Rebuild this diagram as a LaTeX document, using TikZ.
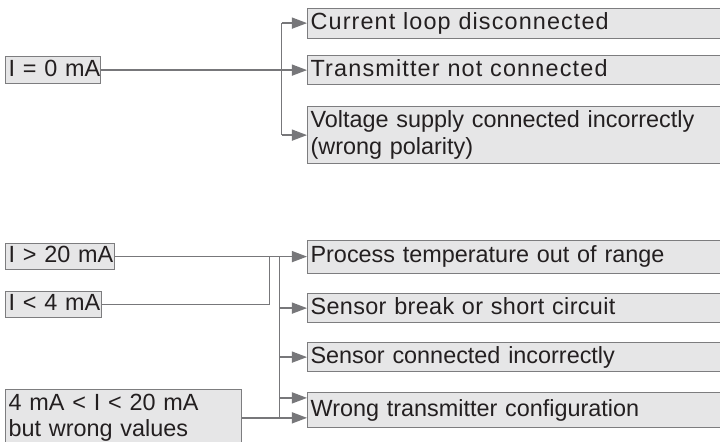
\documentclass[tikz,border=0pt]{standalone}
\usepackage{fontspec}
\setmainfont{Liberation Sans}
\usetikzlibrary{arrows.meta}
\definecolor{boxfill}{HTML}{E6E6E7}
\definecolor{boxline}{HTML}{7D7D7F}
\definecolor{conn}{HTML}{77777A}
\definecolor{txt}{HTML}{231F20}
\tikzset{
  box/.style={draw=boxline, line width=0.6pt, fill=boxfill, anchor=north west,
    inner xsep=1.5pt, inner ysep=0pt, align=left, text=txt,
    font=\fontsize{11.7}{13.3}\selectfont},
  oneline/.style={text height=8.4pt, text depth=2.4pt},
  wire/.style={draw=conn, line width=0.65pt},
  arr/.style={wire, -{Triangle[length=7.5pt,width=5.5pt]}},
}
\begin{document}
\begin{tikzpicture}[x=0.5pt,y=-0.5pt]
\useasboundingbox (0,0) rectangle (720,441);
\clip (0,0) rectangle (720,441);
% top group
\node[box,oneline,minimum height=13.5pt,text width=44.5pt] (A) at (5,56) {\mbox{I = 0 mA}};
\node[box,oneline,minimum height=15pt,text width=213.5pt] (R1) at (307,7.5) {\addfontfeature{LetterSpace=4.8}\mbox{Current loop disconnected}};
\node[box,oneline,minimum height=14.5pt,text width=213.5pt] (R2) at (307,55) {\addfontfeature{LetterSpace=5}\mbox{Transmitter not connected}};
\node[box,minimum height=28.5pt,text width=213.5pt] (R3) at (307,106) {Voltage supply connected incorrectly\\(wrong polarity)};
\coordinate (v1) at (281.7,0);
\draw[arr] (A.east) -- (R2.west);
\draw[wire] (v1 |- R1.west) -- (v1 |- R3.west);
\draw[arr] (v1 |- R1.west) -- (R1.west);
\draw[arr] (v1 |- R3.west) -- (R3.west);
% bottom group
\node[box,oneline,minimum height=13pt,text width=51.5pt] (B1) at (5,243) {\mbox{I > 20 mA}};
\node[box,oneline,minimum height=13pt,text width=45pt] (B2) at (5,291) {\mbox{I < 4 mA}};
\node[box,minimum height=28.75pt,text width=115pt] (B3) at (5,388.5) {\mbox{4 mA < I < 20 mA}\\\mbox{but wrong values}};
\node[box,oneline,minimum height=16.5pt,text width=213.5pt] (P) at (307,239.5) {\mbox{Process temperature out of range}};
\node[box,oneline,minimum height=14.5pt,text width=213.5pt] (S1) at (307,293) {\addfontfeature{LetterSpace=1.5}\mbox{Sensor break or short circuit}};
\node[box,oneline,minimum height=14.5pt,text width=213.5pt] (S2) at (307,342) {\mbox{Sensor connected incorrectly}};
\node[box,oneline,minimum height=17.5pt,text width=213.5pt] (W) at (307,392) {\mbox{Wrong transmitter configuration}};
\coordinate (v2) at (269.3,0);
\coordinate (v3) at (279.5,0);
\coordinate (wu) at ([yshift=6.1pt]W.west);
\draw[arr] (B1.east) -- (P.west |- B1.east);
\draw[wire] (B2.east) -| (v2 |- B1.east);
\draw[wire] (v3 |- B1.east) -- (v3 |- B3.east);
\draw[arr] (v3 |- S1.west) -- (S1.west);
\draw[arr] (v3 |- S2.west) -- (S2.west);
\draw[arr] (v3 |- wu) -- (wu);
\draw[arr] (B3.east) -- (W.west |- B3.east);
\end{tikzpicture}
\end{document}
